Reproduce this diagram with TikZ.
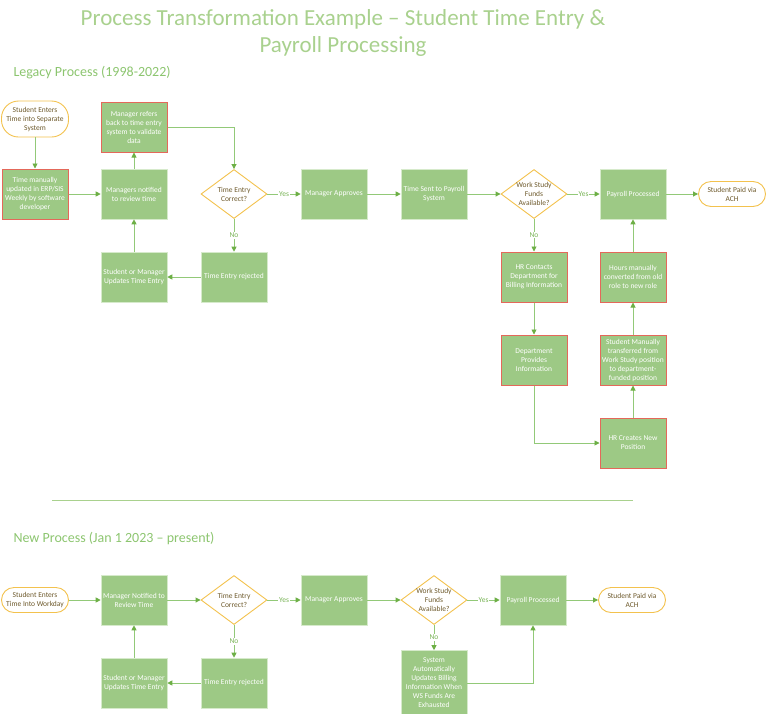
\documentclass[tikz,border=0pt]{standalone}
\usepackage{fontspec}
\setmainfont{Carlito}
\usetikzlibrary{arrows.meta,shapes.geometric}

\definecolor{boxfill}{HTML}{9DC985}
\definecolor{boxedge}{HTML}{D6EACB}
\definecolor{rededge}{HTML}{E4685A}
\definecolor{decedge}{HTML}{F3C24E}
\definecolor{termtext}{HTML}{6E5A2C}
\definecolor{connline}{HTML}{92C978}
\definecolor{conntip}{HTML}{6DAF45}
\definecolor{titlegreen}{HTML}{A9D18E}
\definecolor{headgreen}{HTML}{8CC56F}
\definecolor{lblgreen}{HTML}{79B456}

\tikzset{
  small/.style={font=\fontsize{7.5}{9}\selectfont},
  box/.style={rectangle, draw=boxedge, line width=0.6pt, fill=boxfill,
    minimum width=66pt, minimum height=50pt, inner sep=1pt,
    text=white, align=center, small},
  redbox/.style={box, draw=rededge, line width=1pt},
  term/.style={rectangle, rounded corners=12.5pt, draw=decedge, line width=0.9pt,
    fill=white, minimum width=67pt, minimum height=25pt, inner sep=1pt,
    text=termtext, align=center, small},
  decision/.style={diamond, draw=decedge, line width=0.9pt, fill=white,
    minimum width=66pt, minimum height=49pt, inner sep=0pt},
  dectext/.style={text=termtext, align=center, small},
  conn/.style={draw=connline, line width=0.9pt,
    -{Triangle[length=5pt,width=5pt,color=conntip]}},
  lbl/.style={fill=white, inner sep=0.8pt, text=lblgreen, small},
  heading/.style={anchor=west, text=headgreen, font=\fontsize{14}{16}\selectfont},
}

\begin{document}
\begin{tikzpicture}[x=1pt,y=-1pt]
\useasboundingbox (0,0) rectangle (768,713);

% title and section headings
\node[text=titlegreen, font=\fontsize{23}{27}\selectfont, align=center] (title) at (343,33)
  {Process Transformation Example -- Student Time Entry \&\\Payroll Processing};
\node[heading] (hlegacy) at (10,73) {Legacy Process (1998-2022)};
\node[heading] (hnew) at (10,538) {New Process (Jan 1 2023 -- present)};

\coordinate (sepL) at (52,500);
\coordinate (sepR) at (633,500);
\draw[titlegreen, line width=0.8pt] (sepL) -- (sepR);

% ---------- legacy process ----------
\node[term, minimum height=36pt, rounded corners=17pt] (s1) at (35,119)
  {Student Enters\\Time into Separate\\System};
\node[redbox] (tm) at (35,194) {Time manually\\updated in ERP/SIS\\Weekly by software\\developer};
\node[box] (mn) at (134,194) {Managers notified\\to review time};
\node[redbox] (mr) at (134,127) {Manager refers\\back to time entry\\system to validate\\data};
\node[decision] (d1) at (234,194) {};
\node[dectext] at (d1.center) {Time Entry\\Correct?};
\node[box] (rej) at (234,277) {Time Entry rejected};
\node[box] (upd) at (134,277) {Student or Manager\\Updates Time Entry};
\node[box] (ma) at (334,194) {Manager Approves};
\node[box] (ts) at (434,194) {Time Sent to Payroll\\System};
\node[decision] (d2) at (534,194) {};
\node[dectext] at (d2.center) {Work Study\\Funds\\Available?};
\node[box] (pp) at (633,194) {Payroll Processed};
\node[term] (paid) at (732,194) {Student Paid via\\ACH};
\node[redbox] (hr) at (534,277) {HR Contacts\\Department for\\Billing Information};
\node[redbox] (hm) at (633,277) {Hours manually\\converted from old\\role to new role};
\node[redbox] (dp) at (534,360) {Department\\Provides\\Information};
\node[redbox] (smt) at (633,360) {Student Manually\\transferred from\\Work Study position\\to department-\\funded position};
\node[redbox] (hrc) at (633,443) {HR Creates New\\Position};

\draw[conn] (s1) -- (tm);
\draw[conn] (tm) -- (mn);
\draw[conn] (mn) -- (mr);
\draw[conn] (mr.east) -| (d1.north);
\draw[conn] (d1) -- node[lbl] {Yes} (ma);
\draw[conn] (d1) -- node[lbl] {No} (rej);
\draw[conn] (rej) -- (upd);
\draw[conn] (upd) -- (mn);
\draw[conn] (ma) -- (ts);
\draw[conn] (ts) -- (d2);
\draw[conn] (d2) -- node[lbl] {Yes} (pp);
\draw[conn] (pp) -- (paid);
\draw[conn] (d2) -- node[lbl] {No} (hr);
\draw[conn] (hr) -- (dp);
\draw[conn] (dp.south) |- (hrc.west);
\draw[conn] (hrc) -- (smt);
\draw[conn] (smt) -- (hm);
\draw[conn] (hm) -- (pp);

% ---------- new process ----------
\node[term] (ns) at (35,600) {Student Enters\\Time Into Workday};
\node[box] (nmn) at (134,600) {Manager Notified to\\Review Time};
\node[decision] (nd1) at (234,600) {};
\node[dectext] at (nd1.center) {Time Entry\\Correct?};
\node[box] (nrej) at (234,683) {Time Entry rejected};
\node[box] (nupd) at (134,683) {Student or Manager\\Updates Time Entry};
\node[box] (nma) at (334,600) {Manager Approves};
\node[decision] (nd2) at (434,600) {};
\node[dectext] at (nd2.center) {Work Study\\Funds\\Available?};
\node[box] (npp) at (533,600) {Payroll Processed};
\node[term] (npaid) at (632,600) {Student Paid via\\ACH};
\node[box, minimum height=65pt] (nsys) at (434,683)
  {System\\Automatically\\Updates Billing\\Information When\\WS Funds Are\\Exhausted};

\draw[conn] (ns) -- (nmn);
\draw[conn] (nmn) -- (nd1);
\draw[conn] (nd1) -- node[lbl] {Yes} (nma);
\draw[conn] (nd1) -- node[lbl] {No} (nrej);
\draw[conn] (nrej) -- (nupd);
\draw[conn] (nupd) -- (nmn);
\draw[conn] (nma) -- (nd2);
\draw[conn] (nd2) -- node[lbl] {Yes} (npp);
\draw[conn] (nd2) -- node[lbl] {No} (nsys);
\draw[conn] (nsys.east) -| (npp.south);
\draw[conn] (npp) -- (npaid);
\end{tikzpicture}
\end{document}
